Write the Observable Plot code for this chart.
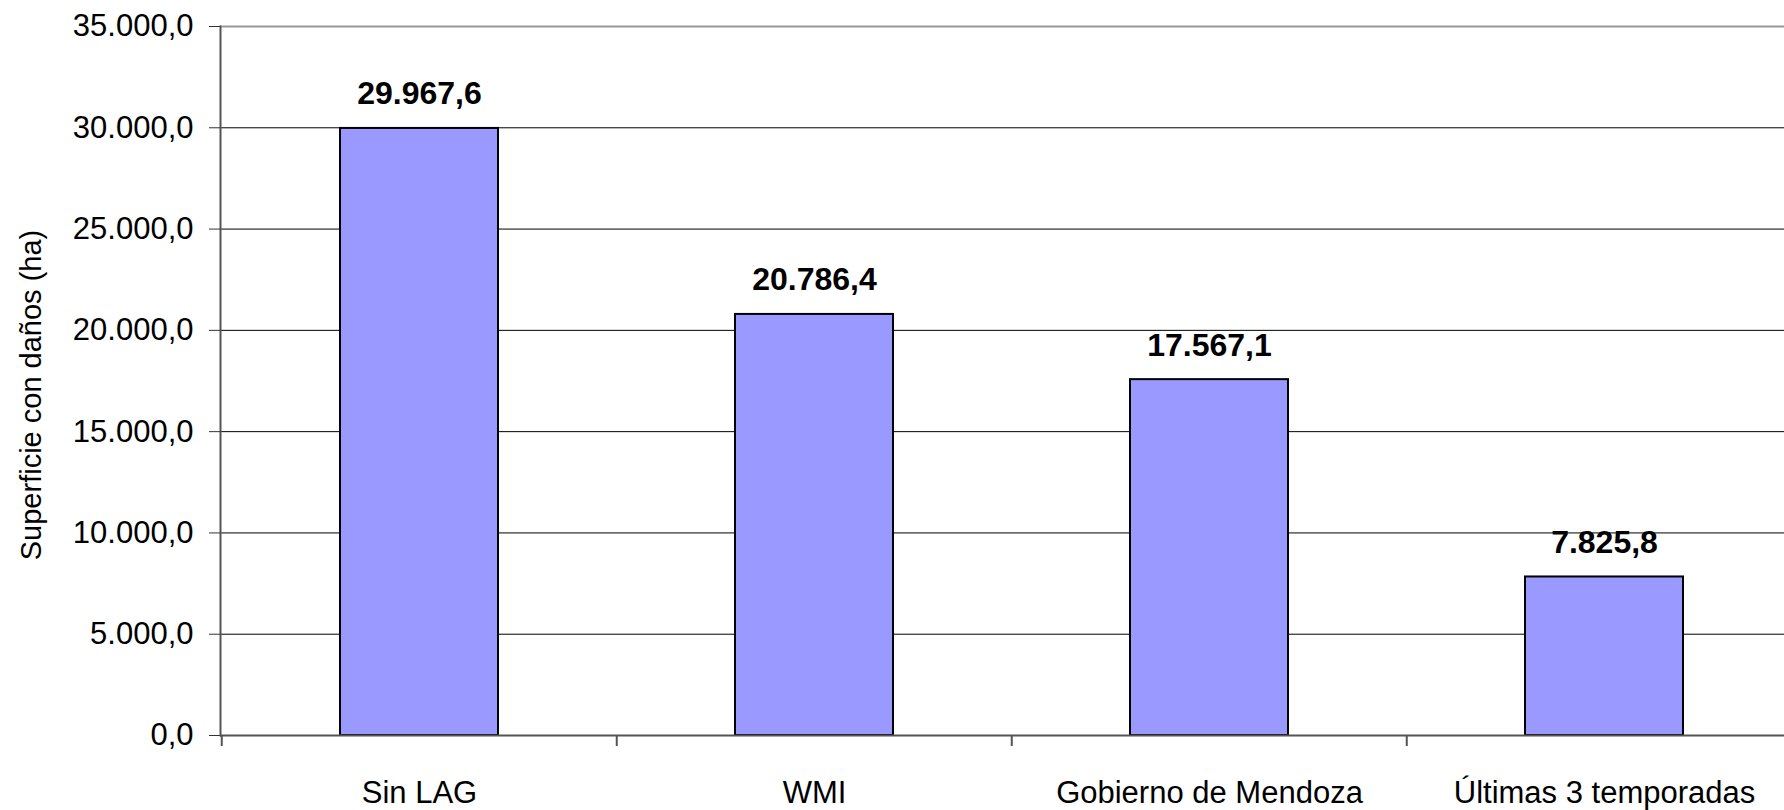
<!DOCTYPE html>
<html><head><meta charset="utf-8">
<script src="https://cdn.jsdelivr.net/npm/d3@7"></script>
<script src="https://cdn.jsdelivr.net/npm/@observablehq/plot@0.6"></script>
<style>html,body{margin:0;padding:0;background:#fff;overflow:hidden}</style>
</head><body><div id="chart"></div>
<script>
const categories = ["Sin LAG", "WMI", "Gobierno de Mendoza", "Últimas 3 temporadas"];
const values = [29967.6, 20786.4, 17567.1, 7825.8];
const yTicks = [0, 5000, 10000, 15000, 20000, 25000, 30000, 35000];
const yTitle = "Superficie con daños (ha)";

const locale = d3.formatLocale({decimal: ",", thousands: ".", grouping: [3], currency: ["$", ""]});
const fmt = locale.format(",.1f");
const data = categories.map((c, i) => ({category: c, value: values[i]}));

const W = 1784, H = 810, mL = 220, mR = -18, mT = 26, mB = 75;
const step = (W - mR - mL) / categories.length;
const font = "'Liberation Sans', Arial, sans-serif";

const chart = Plot.plot({
  width: W, height: H, marginLeft: mL, marginRight: mR, marginTop: mT, marginBottom: mB,
  style: {fontFamily: font, fontSize: "31px", color: "#000", background: "#fff", overflow: "visible"},
  x: {domain: categories, paddingInner: 0.6, paddingOuter: 0.3, align: 0.5, label: null},
  y: {domain: [0, 35000], label: null},
  marks: [
    Plot.ruleY(yTicks.slice(1, -1), {stroke: "#000", strokeWidth: 1}),
    Plot.ruleY([yTicks[yTicks.length - 1]], {stroke: "#999", strokeWidth: 2}),
    Plot.barY(data, {x: "category", y: "value", fill: "#9999FF", stroke: "#000", strokeWidth: 2}),
    Plot.ruleY([0], {stroke: "#555", strokeWidth: 2}),
    Plot.frame({anchor: "left", stroke: "#555", strokeWidth: 2}),
    Plot.axisY({ticks: yTicks, tickFormat: fmt, tickSize: 11, tickPadding: 16, stroke: "#333", label: null, fontSize: 31}),
    Plot.axisX({tickSize: 11, dx: -step / 2, tickFormat: () => "", stroke: "#555", strokeWidth: 2, label: null}),
    Plot.axisX({tickSize: 0, tickPadding: 45, label: null, fontSize: 31}),
    Plot.text(data, {x: "category", y: "value", text: d => fmt(d.value), dy: -24, lineAnchor: "bottom", fontWeight: "bold", fontSize: 32}),
    Plot.text([yTitle], {frameAnchor: "left", textAnchor: "middle", rotate: -90, dx: -189, dy: 14, fontSize: 29})
  ]
});
document.getElementById("chart").appendChild(chart);
</script>
</body></html>
